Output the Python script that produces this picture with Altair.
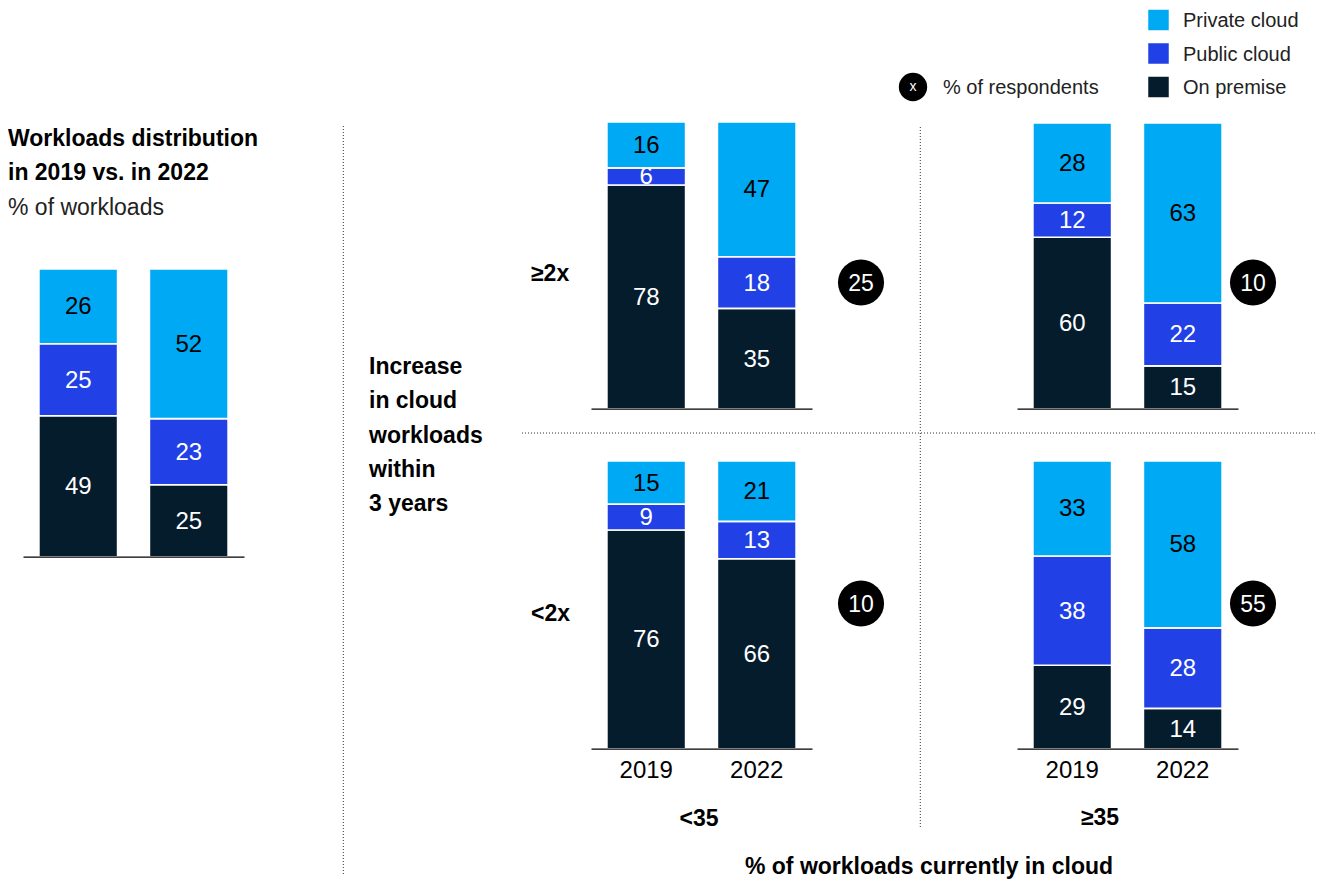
import altair as alt
import pandas as pd

FONT = "Liberation Sans"
W, H = 1309, 871

# ---------------- data ----------------
years = ["2019", "2022"]
stack_order = ["On premise", "Public cloud", "Private cloud"]      # bottom -> top
legend_order = ["Private cloud", "Public cloud", "On premise"]
palette = ["#00A9F4", "#2140E6", "#051C2C"]

panel_ids = ["overall", "ge2x_lt35", "ge2x_ge35", "lt2x_lt35", "lt2x_ge35"]
on_premise = [[49, 25], [78, 35], [60, 15], [76, 66], [29, 14]]
public_cloud = [[25, 23], [6, 18], [12, 22], [9, 13], [38, 28]]
private_cloud = [[26, 52], [16, 47], [28, 63], [15, 21], [33, 58]]

respondent_panels = ["ge2x_lt35", "ge2x_ge35", "lt2x_lt35", "lt2x_ge35"]
respondents = [25, 10, 10, 55]

title_lines = ["Workloads distribution", "in 2019 vs. in 2022"]
subtitle = "% of workloads"
row_title_lines = ["Increase", "in cloud", "workloads", "within", "3 years"]
row_labels = ["≥2x", "<2x"]
col_labels = ["<35", "≥35"]
x_title = "% of workloads currently in cloud"
resp_legend = "% of respondents"

rows = []
for i, pid in enumerate(panel_ids):
    for j, yr in enumerate(years):
        for k, (t, arr) in enumerate(zip(stack_order, [on_premise, public_cloud, private_cloud])):
            rows.append(dict(panel=pid, year=yr, type=t, order=k, value=arr[i][j]))
df = pd.DataFrame(rows)
bubble_df = pd.DataFrame({"panel": respondent_panels, "resp": respondents})
legend_df = pd.DataFrame({"type": legend_order})

# ---------------- layout (pixels) ----------------
layout = {
    "overall":   dict(x=(15, 236),   y=(548.7, 261), labels=False),
    "ge2x_lt35": dict(x=(583, 804),  y=(400.7, 114), labels=False),
    "ge2x_ge35": dict(x=(1009, 1230), y=(400.7, 115), labels=False),
    "lt2x_lt35": dict(x=(583, 804),  y=(740.7, 453), labels=True),
    "lt2x_ge35": dict(x=(1009, 1230), y=(740.7, 453), labels=True),
}
bubble_pos = {
    "ge2x_lt35": (853, 274.5), "ge2x_ge35": (1245, 274.5),
    "lt2x_lt35": (853, 595.5), "lt2x_ge35": (1245, 595.5),
}

color_scale = alt.Scale(domain=legend_order, range=palette)
text_color = alt.when(alt.datum.type == "Private cloud").then(alt.value("#000000")).otherwise(alt.value("#ffffff"))


def panel(pid):
    L = layout[pid]
    x0, x1 = L["x"]
    yb, yt = L["y"]
    xenc = alt.X(
        "year:N", sort=years,
        scale=alt.Scale(domain=years, range=[x0, x1], paddingInner=0.288, paddingOuter=0.144),
        axis=alt.Axis(title=None, orient="bottom", offset=yb - H, labels=L["labels"],
                      ticks=False, tickSize=0, domain=True, domainColor="#000000", domainWidth=1.2,
                      labelFontSize=24, labelFont=FONT, labelColor="#000000", labelPadding=10,
                      labelAngle=0, grid=False, zindex=1),
    )
    yscale = alt.Scale(domain=[0, 100], range=[yb, yt], nice=False, zero=True)
    base = (alt.Chart(df)
            .transform_filter(alt.datum.panel == pid)
            .transform_stack(stack="value", groupby=["year"], as_=["y0", "y1"],
                             sort=[alt.SortField("order", "ascending")]))
    bars = base.mark_bar(stroke="white", strokeWidth=1.6).encode(
        x=xenc,
        y=alt.Y("y0:Q", scale=yscale, axis=None),
        y2="y1:Q",
        color=alt.Color("type:N", scale=color_scale, legend=None),
    )
    texts = base.transform_calculate(mid="(datum.y0 + datum.y1) / 2").mark_text(
        font=FONT, fontSize=24, baseline="middle", align="center", dy=1
    ).encode(
        x=xenc,
        y=alt.Y("mid:Q", scale=yscale, axis=None),
        text="value:Q",
        color=text_color,
    )
    layers = [bars, texts]
    if pid in bubble_pos:
        bx, by = bubble_pos[pid]
        bsrc = alt.Chart(bubble_df).transform_filter(alt.datum.panel == pid)
        layers.append(bsrc.mark_circle(size=2124, color="#000000", opacity=1).encode(
            x=alt.value(bx), y=alt.value(by)))
        layers.append(bsrc.mark_text(font=FONT, fontSize=23, color="#ffffff", baseline="middle",
                                     align="center", dy=1).encode(
            x=alt.value(bx), y=alt.value(by), text="resp:Q"))
    return alt.layer(*layers)


def label(text, x, y, size=23, weight="normal", align="left", color="#000000"):
    return alt.Chart(alt.Data(values=[{}])).mark_text(
        text=text, font=FONT, fontSize=size, fontWeight=weight, align=align,
        baseline="middle", color=color
    ).encode(x=alt.value(x), y=alt.value(y))


def dotted(x=None, y=None, x2=None, y2=None):
    enc = {}
    if x is not None:
        enc["x"] = alt.value(x)
    if x2 is not None:
        enc["x2"] = alt.value(x2)
    if y is not None:
        enc["y"] = alt.value(y)
    if y2 is not None:
        enc["y2"] = alt.value(y2)
    return alt.Chart(alt.Data(values=[{}])).mark_rule(
        strokeDash=[1, 2], color="#333333", strokeWidth=1
    ).encode(**enc)


# legend (colour)
legy = alt.Y("type:N", sort=legend_order,
             scale=alt.Scale(type="point", domain=legend_order, range=[12, 79], padding=0),
             axis=None)
legend_layer = alt.layer(
    alt.Chart(legend_df).mark_square(size=420, opacity=1).encode(
        x=alt.value(1150.5), y=legy, color=alt.Color("type:N", scale=color_scale, legend=None)),
    alt.Chart(legend_df).mark_text(align="left", baseline="middle", font=FONT, fontSize=20, dy=1,
                                   color="#222222").encode(
        x=alt.value(1175), y=legy, text="type:N"),
)

annotations = [
    dotted(x=335.3, y=118, y2=867),
    dotted(x=912.3, y=119, y2=819),
    dotted(x=514, x2=W, y=425),
    label(title_lines[0], 0, 131, weight="bold"),
    label(title_lines[1], 0, 165, weight="bold"),
    label(subtitle, 0, 200, weight="normal", color="#222222"),
    label(row_labels[0], 523, 266, weight="bold"),
    label(row_labels[1], 523, 606, weight="bold"),
    label(col_labels[0], 691, 811, weight="bold", align="center"),
    label(col_labels[1], 1092, 810, weight="bold", align="center"),
    label(x_title, 921, 859, weight="bold", align="center"),
    alt.Chart(alt.Data(values=[{}])).mark_circle(size=804, color="#000000", opacity=1).encode(
        x=alt.value(905), y=alt.value(79)),
    label("x", 905, 79, size=14, align="center", color="#ffffff"),
    label(resp_legend, 935, 80, size=20, color="#222222"),
]
for i, line in enumerate(row_title_lines):
    annotations.append(label(line, 361, 359 + i * 34.3, weight="bold"))

chart = alt.layer(
    *[panel(p) for p in panel_ids],
    legend_layer,
    *annotations,
).resolve_scale(x="independent", y="independent").properties(
    width=W, height=H, padding=0,
    autosize=alt.AutoSizeParams(type="none"),
).configure_view(stroke=None)

chart.save("out.html", embed_options={"renderer": "svg", "actions": False})
